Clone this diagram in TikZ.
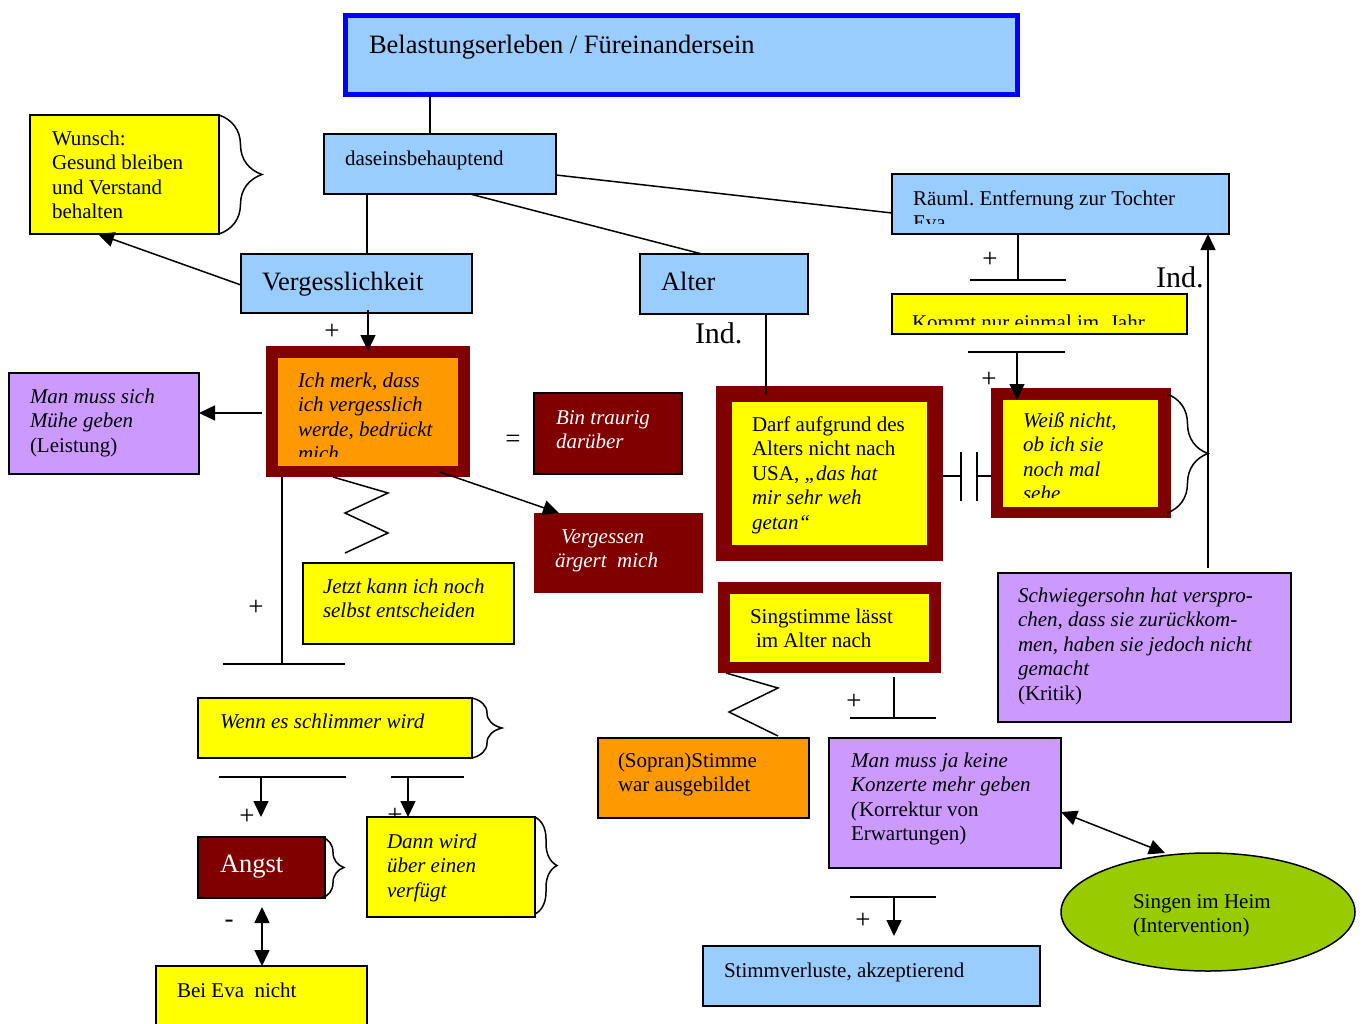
\documentclass[tikz,border=0pt]{standalone}
\usepackage{fontspec}
\setmainfont{Liberation Serif}
\frenchspacing
\usetikzlibrary{arrows.meta,shapes.geometric,calc,decorations.pathreplacing}
\definecolor{ltblue}{HTML}{99CCFF}
\definecolor{dred}{HTML}{800000}
\definecolor{orng}{HTML}{FF9900}
\definecolor{purp}{HTML}{CC99FF}
\definecolor{grn}{HTML}{99CC00}
\definecolor{ylw}{HTML}{FFFF00}
\newcommand{\fN}{\fontsize{21}{24.5}\selectfont}
\newcommand{\fS}{\fontsize{27}{30}\selectfont}
\newcommand{\fL}{\fontsize{26.5}{30}\selectfont}
\newcommand{\fI}{\fontsize{30}{34}\selectfont}
\newcommand{\mkbox}[6]{\node[#2, minimum width=#5pt-#3pt, minimum height=#6pt-#4pt] (#1) at (#3,#4) {};}
\newcommand{\mktext}[5]{\node[txt,#2] (#1) at (#3,#4-17.15) {\strut #5};}
\tikzset{
  boxbase/.style={inner sep=0, outer sep=0, anchor=north west},
  bx/.style={boxbase, draw=black, line width=1.5pt},
  plain/.style={boxbase},
  txt/.style={inner sep=0, outer sep=0, anchor=north west, align=left, font=\fN},
  big/.style={inner sep=0, outer sep=0, anchor=base west, font=\fL},
  ind/.style={inner sep=0, outer sep=0, anchor=base west, font=\fI},
  sign/.style={inner sep=0, outer sep=0, font=\fS},
  ln/.style={line width=1.5pt, draw=black},
  arr/.style={ln, -{Triangle[length=16pt,width=15pt]}},
  darr/.style={ln, {Triangle[length=16pt,width=15pt]}-{Triangle[length=16pt,width=15pt]}},
  brc/.style={ln, decorate, decoration={brace, amplitude=#1}},
}
\begin{document}
\begin{tikzpicture}[x=1pt,y=-1pt]
\fill[white] (0,0) rectangle (1363,1023);
\useasboundingbox (0,0) rectangle (1363,1023);

% ---------- boxes ----------
\mkbox{title}{boxbase, draw=blue, line width=5pt, fill=ltblue}{345.5}{15.5}{1017.5}{94.5}
\node[big] (titletxt) at (369,53) {Belastungserleben / Füreinandersein};

\mkbox{dasein}{bx, fill=ltblue}{324}{134}{556}{194}
\mktext{daseintxt}{}{345}{165}{daseinsbehauptend}

\mkbox{raeuml}{bx, fill=ltblue}{892}{174}{1229}{234}
\begin{scope}
\clip (893,176) rectangle (1228,223);
\mktext{raeumltxt}{}{913}{205}{Räuml. Entfernung zur Tochter\\Eva}
\end{scope}

\mkbox{verg}{bx, fill=ltblue}{241}{254}{472}{313}
\node[big] (vergtxt) at (262,290) {Vergesslichkeit};

\mkbox{alter}{bx, fill=ltblue}{640}{254}{808}{314}
\node[big] (altertxt) at (661,290) {Alter};

\mkbox{wunsch}{bx, fill=ylw}{30}{115}{219}{234}
\mktext{wunschtxt}{}{52}{145}{Wunsch:\\Gesund bleiben\\und Verstand\\behalten}

\mkbox{kommt}{bx, fill=ylw}{892}{294}{1187}{334}
\begin{scope}
\clip (893,296) rectangle (1186,324);
\mktext{kommttxt}{}{912}{329}{Kommt nur einmal im\ \ Jahr}
\end{scope}

\mkbox{ichmerk}{plain, fill=dred}{266}{346}{470}{477}
\mkbox{ichmerkin}{plain, fill=orng}{278}{358}{458}{466}
\begin{scope}
\clip (278,358) rectangle (458,456);
\mktext{ichmerktxt}{font=\fN\itshape}{298}{387}{Ich merk, dass\\ich vergesslich\\werde, bedrückt\\mich}
\end{scope}

\mkbox{mms}{bx, fill=purp}{9}{373}{199}{474}
\mktext{mmstxt}{}{30}{403}{\textit{Man muss sich}\\\textit{Mühe geben}\\(Leistung)}

\mkbox{bin}{bx, fill=dred}{534}{393}{682}{474}
\mktext{bintxt}{font=\fN\itshape, text=white}{556}{424}{Bin traurig\\darüber}

\mkbox{vergn}{plain, fill=dred}{534}{513}{703}{593}
\mktext{vergntxt}{font=\fN\itshape, text=white}{555}{543}{\hspace*{6pt}Vergessen\\ärgert\ \ mich}

\mkbox{jetzt}{bx, fill=ylw}{303}{563}{514}{644}
\mktext{jetzttxt}{font=\fN\itshape}{323}{593}{Jetzt kann ich noch\\selbst entscheiden}

\mkbox{wenn}{bx, fill=ylw}{198}{698}{472}{758}
\mktext{wenntxt}{font=\fN\itshape}{220}{728}{Wenn es schlimmer wird}

\mkbox{angst}{bx, fill=dred}{198}{837}{325}{898}
\node[big, text=white] (angsttxt) at (220,872) {Angst};

\node[sign] (plusdann) at (395,816) {+};
\mkbox{dann}{bx, fill=ylw}{367}{817}{535}{917}
\mktext{danntxt}{font=\fN\itshape}{387}{848}{Dann wird\\über einen\\verfügt}

\mkbox{beieva}{bx, fill=ylw}{156}{966}{367}{1040}
\mktext{beievatxt}{}{177}{997}{Bei Eva\ \ nicht}

\mkbox{darf}{plain, fill=dred}{716}{386}{943}{561}
\mkbox{darfin}{plain, fill=ylw}{732}{402}{927}{545}
\mktext{darftxt}{}{752}{431}{Darf aufgrund des\\Alters nicht nach\\USA, \textit{„das hat}\\\textit{mir sehr weh}\\\textit{getan“}}

\mkbox{weiss}{plain, fill=dred}{991}{388}{1171}{518}
\mkbox{weissin}{plain, fill=ylw}{1003}{400}{1158}{507}
\begin{scope}
\clip (1003,400) rectangle (1158,497);
\mktext{weisstxt}{font=\fN\itshape}{1023}{427}{Weiß nicht,\\ob ich sie\\noch mal\\sehe}
\end{scope}

\mkbox{sing}{plain, fill=dred}{718}{582}{941}{673}
\mkbox{singin}{plain, fill=ylw}{730}{594}{929}{662}
\mktext{singtxt}{}{750}{623}{Singstimme lässt\\\hspace*{6pt}im Alter nach}

\mkbox{schw}{bx, fill=purp}{998}{573}{1291}{722}
\mktext{schwtxt}{}{1018}{602}{\textit{Schwiegersohn hat verspro-}\\\textit{chen, dass sie zurückkom-}\\\textit{men, haben sie jedoch nicht}\\\textit{gemacht}\\(Kritik)}

\mkbox{sopran}{bx, fill=orng}{598}{738}{809}{818}
\mktext{sopranxt}{}{618}{767}{(Sopran)Stimme\\war ausgebildet}

\mkbox{mmj}{bx, fill=purp}{829}{738}{1061}{868}
\mktext{mmjtxt}{}{851}{767}{\textit{Man muss ja keine}\\\textit{Konzerte mehr geben}\\\textit{(}Korrektur von\\Erwartungen)}

\node[ellipse, draw=black, line width=1.5pt, fill=grn, minimum width=294pt, minimum height=118pt, inner sep=0] (ell) at (1208,912) {};
\mktext{elltxt}{}{1133}{908}{Singen im Heim\\(Intervention)}

\mkbox{stimm}{bx, fill=ltblue}{703}{946}{1040}{1006}
\mktext{stimmtxt}{}{724}{977}{Stimmverluste, akzeptierend}

% ---------- braces ----------
\draw[brc=43pt] (wunsch.north east) -- (wunsch.south east);
\draw[brc=30pt] (wenn.north east) -- (wenn.south east);
\draw[brc=22pt] ($(angst.north east)+(-3,0)$) -- ($(angst.south east)+(-3,0)$);
\draw[brc=22pt] (dann.north east) -- ($(dann.south east)+(0,-3)$);
\draw[brc=41pt] ($(weiss.north east)+(-4,6)$) -- ($(weiss.south east)+(-4,-5)$);

% ---------- connectors ----------
\draw[ln] ($(title.south west)+(84.5,0)$) -- ($(dasein.north west)+(106,0)$);
\draw[ln] ($(dasein.south west)+(43,0)$) -- ($(verg.north west)+(126,0)$);
\draw[ln] ($(dasein.south west)+(146,0)$) -- ($(alter.north west)+(62,0)$);
\draw[ln] ($(dasein.north east)+(0,41)$) -- ($(raeuml.north west)+(0,39)$);
\draw[arr] ($(verg.north west)+(0,31)$) -- ($(wunsch.south west)+(68,0)$);
\draw[arr] ($(verg.south west)+(127,-3)$) -- ($(ichmerk.north west)+(102,5)$);
\node[sign] (p1) at (332,332) {+};

\draw[arr] ($(ichmerk.north west)+(-4,67)$) -- ($(mms.north east)+(0,40)$);
\node[sign] (eq) at (513,441) {=};
\draw[arr] ($(ichmerk.south west)+(174,-5)$) -- ($(vergn.north west)+(25,0)$);
\draw[ln] ($(ichmerk.south west)+(67,0)$) -- ++(55,16) -- ++(-43,20) -- ++(43,20) -- ++(-43,20);
\draw[ln] ($(ichmerk.south west)+(16,0)$) -- ++(0,187) ++(-59,0) -- ++(122,0);
\node[sign] (p2) at (256,608) {+};

\draw[ln] ($(wenn.south west)+(21,19)$) -- ++(127,0);
\draw[arr] ($(wenn.south west)+(63,19)$) -- ($(angst.north west)+(63,-20)$);
\node[sign] (p3) at (247,817) {+};
\draw[ln] ($(wenn.south west)+(193,19)$) -- ++(73,0);
\draw[arr] ($(wenn.south west)+(210,19)$) -- ($(dann.north west)+(41,0)$);
\draw[darr] ($(angst.south west)+(64,9)$) -- ($(beieva.north west)+(106,0)$);
\node[sign] (m1) at (229,924) {-};

\draw[ln] ($(alter.south west)+(126,0)$) -- ($(darf.north west)+(50,8)$);
\node[ind] (ind1) at (695,343) {Ind.};

\draw[ln] ($(darf.north east)+(0,90)$) -- ++(18,0) ++(0,-24) -- ++(0,49);
\draw[ln] ($(weiss.north west)+(0,88)$) -- ++(-14,0) ++(0,-24) -- ++(0,49);

\draw[ln] ($(raeuml.south west)+(126,0)$) -- ++(0,46) ++(-48,0) -- ++(96,0);
\node[sign] (p4) at (990,260) {+};
\draw[ln] ($(kommt.south west)+(76,18)$) -- ++(97,0);
\draw[arr] ($(kommt.south west)+(125,18)$) -- ($(weiss.north west)+(26,12)$);
\node[sign] (p5) at (989,380) {+};

\draw[arr] ($(schw.north west)+(210,-5)$) -- ($(raeuml.south west)+(316,0)$);
\node[ind] (ind2) at (1156,287) {Ind.};

\draw[ln] ($(sing.south west)+(8,0)$) -- ++(52,15) -- ++(-49,24) -- ++(49,24);
\draw[ln] ($(sing.south west)+(176,4)$) -- ++(0,41) ++(-44,0) -- ++(86,0);
\node[sign] (p6) at (854,702) {+};

\draw[darr] ($(mmj.north east)+(0,74)$) -- ($(ell.center)+(-43,-59)$);
\draw[ln] ($(mmj.south west)+(21,29)$) -- ++(86,0);
\draw[arr] ($(mmj.south west)+(65,29)$) -- ($(stimm.north west)+(191,-10)$);
\node[sign] (p7) at (863,921) {+};
\end{tikzpicture}
\end{document}
